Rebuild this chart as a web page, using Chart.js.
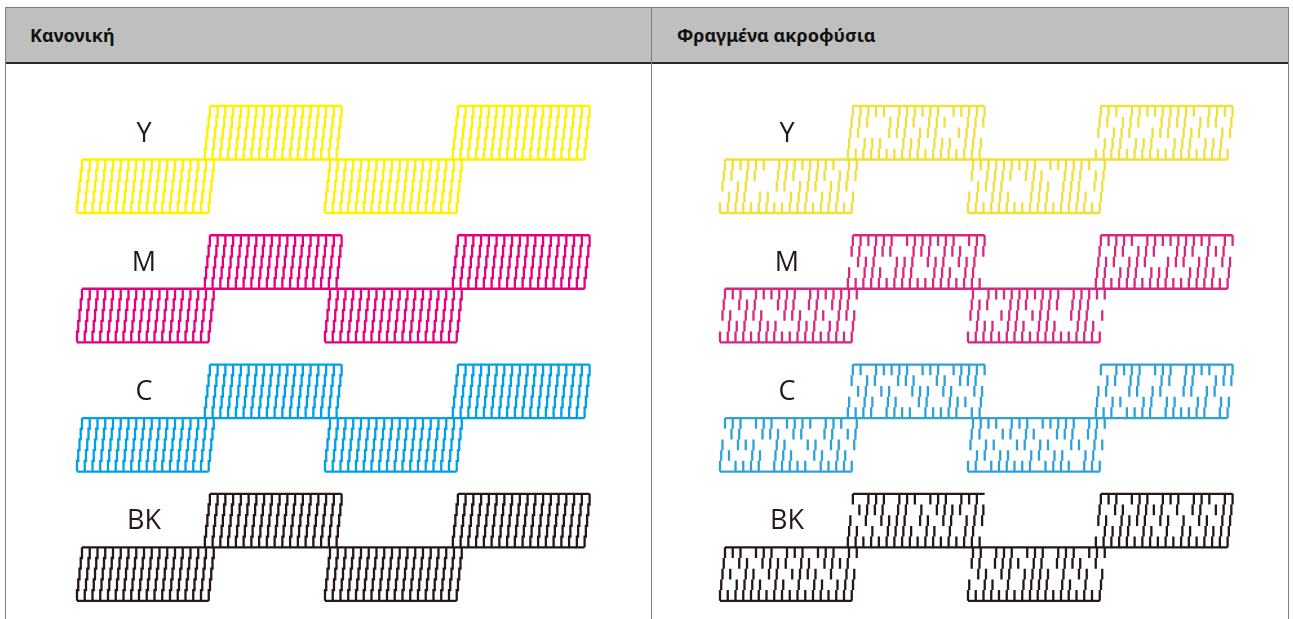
<!DOCTYPE html>
<html><head><meta charset="utf-8">
<script src="https://cdn.jsdelivr.net/npm/chart.js@4.4.1/dist/chart.umd.min.js"></script>
<style>
html,body{margin:0;padding:0;background:#fff;width:1293px;height:619px;overflow:hidden;position:relative;}
.abs{position:absolute;}
.head{background:#bfbfbf;top:8px;height:55px;font-family:"Noto Sans","Open Sans",sans-serif;font-weight:bold;font-size:18px;line-height:55px;color:#111;box-sizing:border-box;}
.lbl{position:absolute;font-family:"Open Sans","Noto Sans",sans-serif;font-size:27px;color:#231815;transform:translate(-50%,-50%);line-height:1;white-space:nowrap;z-index:3;}
canvas{display:block;}
</style></head>
<body>
<div class="abs head" style="left:6px;width:645px;padding-left:24px;">Κανονική</div>
<div class="abs head" style="left:652px;width:636px;padding-left:25px;">Φραγμένα ακροφύσια</div>
<div class="abs" style="left:5px;top:7px;width:1284px;height:700px;border:1px solid #7d7d7d;box-sizing:border-box;z-index:2;"></div>
<div class="abs" style="left:6px;top:62px;width:1282px;height:2px;background:#2a2a2a;z-index:2;"></div>
<div class="abs" style="left:651px;top:7px;width:1px;height:612px;background:#7d7d7d;z-index:2;"></div>
<div class="abs" style="left:8px;top:64px;width:636px;height:555px;"><canvas id="cNormal" width="636" height="555"></canvas></div>
<div class="abs" style="left:651px;top:64px;width:636px;height:555px;"><canvas id="cClog" width="636" height="555"></canvas></div>
<div id="labels"></div>
<script>
// ---- data ----
const inks = ['Y', 'M', 'C', 'BK'];
const blockStarts = [0, 16.5, 32, 48.5];      // first nozzle column of each block
const blockTopRows = [5, 0, 5, 0];            // lower, upper, lower, upper
const nozzlesPerBlock = 18;
const segmentsPerLine = 5;
// clogged pattern: 5 rows (top to bottom) x 4 blocks x 18 nozzles, 1 = printed, 0 = missing
const cloggedY = [
  "111111011111111011 111110111111011111 111111111011111101 111011111111101111",
  "110110011101110111 111001111011100111 101111011100111011 110111001111011101",
  "101100011011101110 110001110111001110 011110001110111011 101110011101110011",
  "011101100111011101 101110011101110111 110111001110111101 011101110011101110",
  "111111111111111111 111111111111111111 111111111111111111 111111111111111111"
];
const cloggedM = [
  "111011111101111111 111111011111110111 101111111111011111 111110111111111011",
  "101110011101101110 110111001110111011 111001110111011100 101101110011101110",
  "110111001110110111 011100111011101110 110011101110011101 111011100111011011",
  "011101110011101101 101110111001110110 011101110111001110 110111011100111101",
  "111111111111111111 111111111111111111 111111111111111111 111111111111111111"
];
const cloggedC = [
  "111011101111011101 110111110111011111 111101110111110111 101111011101111011",
  "011001110110011011 101100111001101110 110011011001110110 011011001101100111",
  "101110011001101101 011011001110110011 101100110110011011 110011011001101100",
  "110011011100110110 101101100110011101 011011001101100110 101100110110011011",
  "101111011111011111 111101111011111011 110111111011110111 111011110111111011"
];
const cloggedBK = [
  "111011101110111011 101110111011101110 110111011101110111 111011101110111011",
  "101101111011011110 011110110101111011 110111101101111010 101101111010110111",
  "110110110111101011 101011110110110111 011011011110101101 110111101101011011",
  "101111011010110111 110101111011010110 101101011110110101 011110110101101111",
  "111111111111111111 111111111111111111 111111111111111111 111111111111111111"
];
const cloggedSets = [cloggedY, cloggedM, cloggedC, cloggedBK];

// ---- styles / layout ----
const normalColors = ['#fff100', '#e4007f', '#00a0e9', '#231815'];
const cloggedColors = ['#f1df3c', '#d8287f', '#2ea1d9', '#231815'];
const BAND = 12.08;      // rows between ink bands
const STEP = 0.161;      // horizontal shift per segment (columns)
const X_MIN = -9.548, X_MAX = 72.52;
const Y_MIN = -3.925, Y_MAX = 47.94;
const LABEL_COL = 8.0, LABEL_ROW = 2.3;
const GAP = {x: null, y: null};

function present(rows, r, idx) {
  const s = rows[r].replace(/ /g, '');
  return idx < s.length ? s[idx] === '1' : true;
}

function frameLines(c, pts) {
  const base = c * BAND;
  const last = blockStarts.length - 1;
  pts.push({x: blockStarts[0], y: base + 5}, {x: blockStarts[last] + nozzlesPerBlock - 1 - (segmentsPerLine - 1) * STEP, y: base + 5}, GAP);
  blockStarts.forEach((s, b) => {
    const top = base + blockTopRows[b];
    if (blockTopRows[b] === 0) {
      pts.push({x: s, y: top}, {x: s + nozzlesPerBlock - 1, y: top}, GAP);
    } else {
      const off = (segmentsPerLine - 1) * STEP;
      pts.push({x: s - off, y: top + segmentsPerLine}, {x: s + nozzlesPerBlock - 1 - off, y: top + segmentsPerLine}, GAP);
    }
  });
}

function buildNormal(c) {
  const pts = [];
  const base = c * BAND;
  blockStarts.forEach((s, b) => {
    const top = base + blockTopRows[b];
    for (let i = 0; i < nozzlesPerBlock; i++) {
      const x0 = s + i;
      pts.push({x: x0, y: top});
      for (let k = 0; k < segmentsPerLine; k++) {
        const xk = x0 - k * STEP;
        if (k > 0) pts.push({x: xk, y: top + k});
        pts.push({x: xk, y: top + k + 1});
      }
      pts.push(GAP);
    }
  });
  frameLines(c, pts);
  return pts;
}

function buildClogged(c) {
  const pts = [];
  const base = c * BAND;
  const rows = cloggedSets[c];
  blockStarts.forEach((s, b) => {
    const top = base + blockTopRows[b];
    for (let i = 0; i < nozzlesPerBlock; i++) {
      const idx = b * nozzlesPerBlock + i;
      for (let k = 0; k < segmentsPerLine; k++) {
        if (!present(rows, k, idx)) continue;
        const xk = s + i - k * STEP;
        pts.push({x: xk, y: top + k}, {x: xk, y: top + k + 1}, GAP);
      }
    }
  });
  frameLines(c, pts);
  return pts;
}

function makeChart(id, builder, colors) {
  const datasets = inks.map((ink, c) => ({
    label: ink,
    data: builder(c),
    showLine: true,
    spanGaps: false,
    borderColor: colors[c],
    backgroundColor: colors[c],
    borderWidth: 2.3,
    pointRadius: 0,
    borderJoinStyle: 'miter',
    tension: 0
  }));
  return new Chart(document.getElementById(id), {
    type: 'scatter',
    data: {datasets},
    options: {
      responsive: false, animation: false, devicePixelRatio: 1,
      layout: {padding: 0},
      events: [],
      plugins: {legend: {display: false}, tooltip: {enabled: false}},
      scales: {
        x: {type: 'linear', display: false, min: X_MIN, max: X_MAX},
        y: {type: 'linear', display: false, reverse: true, min: Y_MIN, max: Y_MAX}
      }
    }
  });
}

const chartN = makeChart('cNormal', buildNormal, normalColors);
const chartC = makeChart('cClog', buildClogged, cloggedColors);

function placeLabels(chart, canvasId) {
  const rect = document.getElementById(canvasId).parentElement;
  const ox = parseFloat(rect.style.left), oy = parseFloat(rect.style.top);
  const holder = document.getElementById('labels');
  inks.forEach((ink, c) => {
    const d = document.createElement('div');
    d.className = 'lbl';
    d.textContent = ink;
    d.style.left = (ox + chart.scales.x.getPixelForValue(LABEL_COL)) + 'px';
    d.style.top = (oy + chart.scales.y.getPixelForValue(c * BAND + LABEL_ROW)) + 'px';
    holder.appendChild(d);
  });
}
placeLabels(chartN, 'cNormal');
placeLabels(chartC, 'cClog');
</script>
</body></html>
